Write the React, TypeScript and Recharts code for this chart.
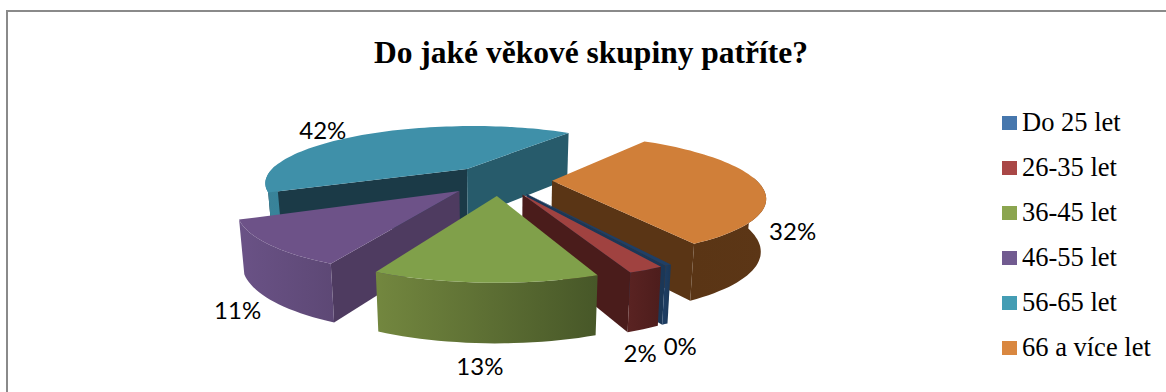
import { PieChart, Pie, Legend } from "recharts";

const names = ["Do 25 let", "26-35 let", "36-45 let", "46-55 let", "56-65 let", "66 a více let"];
const shares = [0.4, 2.1, 12.9, 11.2, 41.7, 31.7];

const legendColors = ["#4677ad", "#a94746", "#8ba54f", "#715b90", "#449db4", "#d98740"];
const topColors = ["#1f3f66", "#a04240", "#80a04a", "#6d5288", "#3f90a9", "#d07f39"];
const wallColors = [
  ["#1f3f66", "#1b3757"],
  ["#5a2322", "#4d1d1c"],
  ["#73873f", "#475728"],
  ["#6a5286", "#5d4875"],
  ["#3a8298", "#37839a"],
  ["#5a3515", "#5c3616"],
];
// cut faces: the one on the slice's start edge, then the one on its end edge
const cutColors = [
  ["#1b3757", "#1b3757"],
  ["#4a1c1b", "#4a1c1b"],
  ["#475728", "#475728"],
  ["#4e3b60", "#4e3b60"],
  ["#1b3a47", "#275b6b"],
  ["#5a3515", "#5a3515"],
];

const data = names.map((name, i) => ({ name, share: shares[i] }));

// back-to-front order, so nearer slices cover the ones behind them
const paintOrder = ["56-65 let", "66 a více let", "Do 25 let", "26-35 let", "46-55 let", "36-45 let"];

// fake 3D: the flat pie is tilted with a simple perspective divide
const PERSPECTIVE = 0.234;
const TILT = 0.282;
const EXPLODE = 0.26;

const labelNudge: Record<string, [number, number]> = {
  "Do 25 let": [12, 80],
  "26-35 let": [-6, 83],
  "36-45 let": [-5, 83],
  "46-55 let": [-30, 66],
  "56-65 let": [-44, -5],
  "66 a více let": [33, 47],
};

const rad = (deg: number) => (deg * Math.PI) / 180;

function project(cx: number, cy: number, radius: number, u: number, v: number) {
  const s = 1 / (1 - PERSPECTIVE * v);
  return { x: cx + radius * u * s, y: cy + radius * TILT * v * s, s };
}

// the lower rim sits a bit closer to the centre and drops more near the viewer
function dropped(cx: number, p: { x: number; y: number; s: number }) {
  return { x: cx + (p.x - cx) * 0.98, y: p.y + 28 + 23 * p.s };
}

const toPath = (pts: { x: number; y: number }[]) =>
  "M" + pts.map((p) => `${p.x.toFixed(1)},${p.y.toFixed(1)}`).join("L") + "Z";

function Slice3D(props: any) {
  const { cx, cy, outerRadius, startAngle, endAngle, midAngle, name } = props;
  const idx = names.indexOf(name);
  // Recharts angles run counter-clockwise, screen angles here run clockwise
  const a0 = -startAngle;
  const a1 = -endAngle;
  const m = rad(-midAngle);
  const ou = EXPLODE * Math.cos(m);
  const ov = EXPLODE * Math.sin(m);
  const at = (deg: number, r = 1) =>
    project(cx, cy, outerRadius, ou + r * Math.cos(rad(deg)), ov + r * Math.sin(rad(deg)));

  const apex = at(0, 0);
  const steps = Math.max(2, Math.ceil((a1 - a0) / 2));
  const angles = Array.from({ length: steps + 1 }, (_, i) => a0 + ((a1 - a0) * i) / steps);
  const arc = angles.map((d) => at(d));

  const front = angles.filter((d) => Math.sin(rad(d)) > -0.08);
  const wallTop = front.map((d) => at(d));
  const wall = [...wallTop, ...wallTop.slice().reverse().map((p) => dropped(cx, p))];

  const cutFace = (deg: number) => {
    const rim = at(deg);
    return toPath([apex, rim, dropped(cx, rim), dropped(cx, apex)]);
  };
  const gradId = `wall-${idx}`;

  return (
    <g>
      <defs>
        <linearGradient id={gradId} x1="0" y1="0" x2="1" y2="0">
          <stop offset="0%" stopColor={wallColors[idx][0]} />
          <stop offset="100%" stopColor={wallColors[idx][1]} />
        </linearGradient>
      </defs>
      {-Math.cos(rad(a0)) > 0 && <path d={cutFace(a0)} fill={cutColors[idx][0]} />}
      {Math.cos(rad(a1)) > 0 && <path d={cutFace(a1)} fill={cutColors[idx][1]} />}
      {wall.length > 2 && <path d={toPath(wall)} fill={`url(#${gradId})`} />}
      <path d={toPath([apex, ...arc])} fill={topColors[idx]} />
    </g>
  );
}

function renderLabel(props: any) {
  const { cx, cy, outerRadius, midAngle, name, value } = props;
  const m = rad(-midAngle);
  const r = 1 + EXPLODE;
  const p = project(cx, cy, outerRadius, r * Math.cos(m), r * Math.sin(m));
  const [dx, dy] = labelNudge[name];
  return (
    <text
      x={p.x + dx}
      y={p.y + dy}
      textAnchor="middle"
      dominantBaseline="central"
      fontFamily="Lato, sans-serif"
      fontSize={24}
      fill="#000"
    >
      {`${Math.round(value)}%`}
    </text>
  );
}

function AgeLegend() {
  return (
    <div>
      {names.map((name, i) => (
        <div key={name} style={{ display: "flex", alignItems: "center", height: 45 }}>
          <span style={{ width: 15, height: 14, background: legendColors[i], marginRight: 5 }} />
          <span style={{ fontFamily: "'Liberation Serif', serif", fontSize: 26.5, color: "#000", whiteSpace: "nowrap" }}>
            {name}
          </span>
        </div>
      ))}
    </div>
  );
}

const sharedPie = {
  data,
  dataKey: "share",
  nameKey: "name",
  cx: 499,
  cy: 180,
  outerRadius: 204,
  startAngle: -60,
  endAngle: -420,
  stroke: "none",
  legendType: "none" as const,
  isAnimationActive: false,
};

export default function App() {
  return (
    <div style={{ position: "absolute", left: 0, top: 0, width: 1166, height: 392, overflow: "hidden", background: "#fff" }}>
      <div
        style={{
          position: "absolute",
          left: 6,
          top: 10,
          width: 1200,
          height: 400,
          border: "2px solid #8a8a8a",
          boxSizing: "content-box",
        }}
      />
      <div
        style={{
          position: "absolute",
          left: 0,
          top: 35,
          width: 1182,
          textAlign: "center",
          fontFamily: "'Liberation Serif', serif",
          fontWeight: "bold",
          fontSize: 31.5,
          color: "#000",
        }}
      >
        Do jaké věkové skupiny patříte?
      </div>
      <PieChart width={1166} height={392} margin={{ top: 0, right: 0, bottom: 0, left: 0 }} style={{ position: "absolute", left: 0, top: 0 }}>
        {paintOrder.map((sliceName) => (
          <Pie
            key={sliceName}
            {...sharedPie}
            label={false}
            labelLine={false}
            shape={(p: any) => (p.name === sliceName ? <Slice3D {...p} /> : <g />)}
          />
        ))}
        <Pie {...sharedPie} labelLine={false} label={renderLabel} shape={() => <g />} />
        <Legend
          content={<AgeLegend />}
          wrapperStyle={{ position: "absolute", left: 1002, top: 100, width: 164, bottom: "auto", right: "auto" }}
        />
      </PieChart>
    </div>
  );
}
